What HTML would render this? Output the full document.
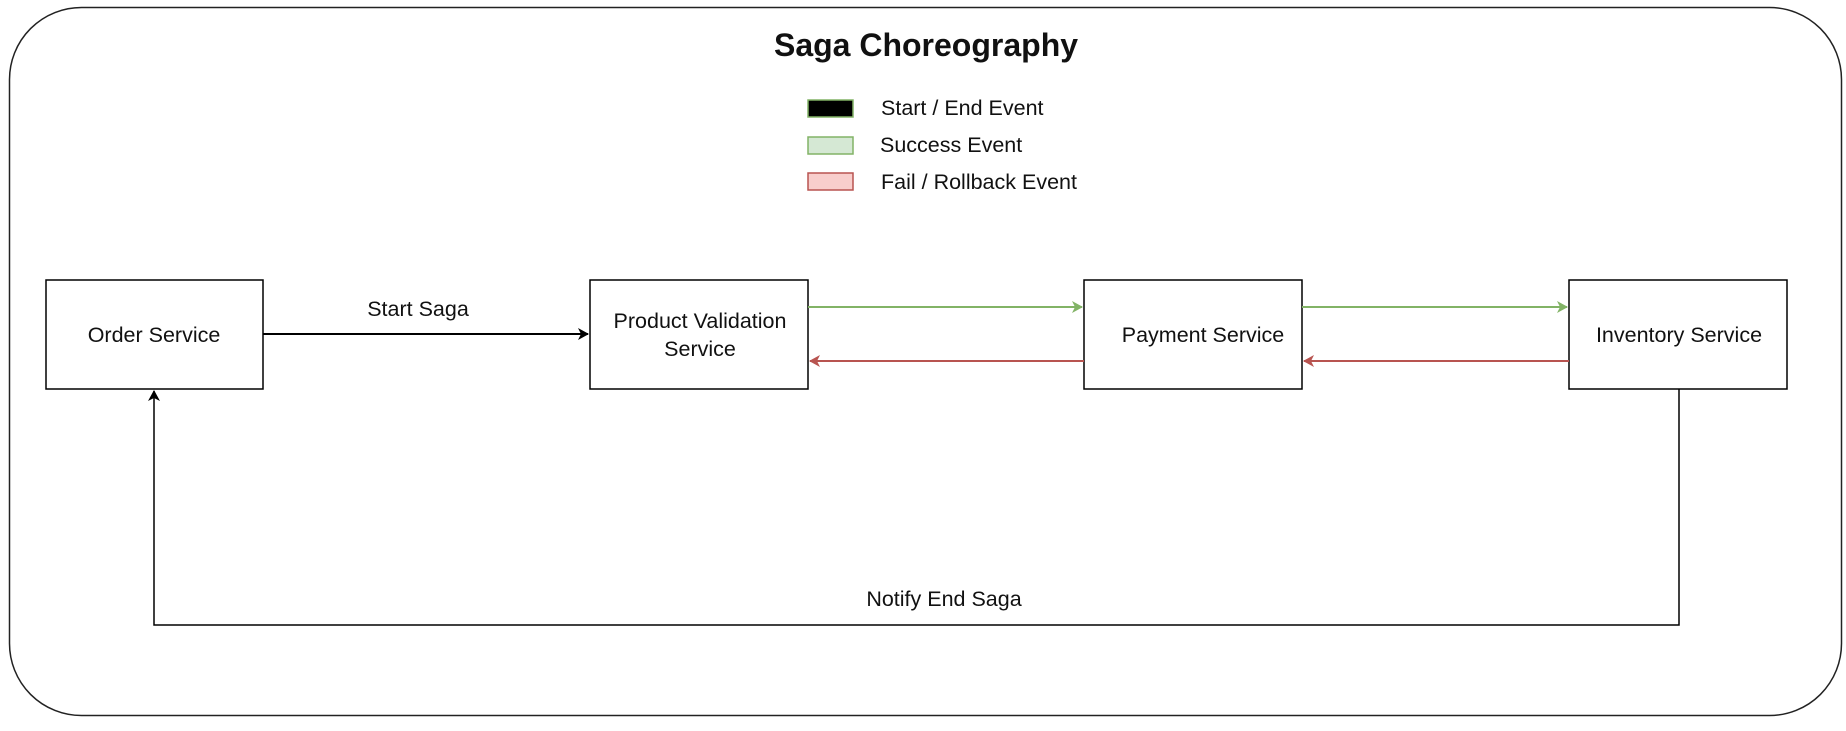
<!DOCTYPE html>
<html><head><meta charset="utf-8"><style>
body{margin:0;background:#fff;}
svg text{font-family:"Liberation Sans",Arial,sans-serif;fill:#111;}
</style></head><body>
<svg width="1846" height="726" viewBox="0 0 1846 726" xmlns="http://www.w3.org/2000/svg">
<defs>
<marker id="ab" markerWidth="12" markerHeight="12" refX="10" refY="6" orient="auto" markerUnits="userSpaceOnUse"><path d="M0,0 L11,6 L0,12 L3,6 Z" fill="#000"/></marker>
<marker id="ag" markerWidth="12" markerHeight="12" refX="10" refY="6" orient="auto" markerUnits="userSpaceOnUse"><path d="M0,0 L11,6 L0,12 L3,6 Z" fill="#82b366"/></marker>
<marker id="ar" markerWidth="12" markerHeight="12" refX="10" refY="6" orient="auto" markerUnits="userSpaceOnUse"><path d="M0,0 L11,6 L0,12 L3,6 Z" fill="#b85450"/></marker>
</defs>
<rect x="9.5" y="7.5" width="1832" height="708" rx="72" ry="72" fill="#fff" stroke="#222" stroke-width="1.5"/>
<text x="926" y="56" font-size="32" font-weight="bold" text-anchor="middle">Saga Choreography</text>
<rect x="808" y="100" width="45" height="17" fill="#000" stroke="#82b366" stroke-width="1.5"/>
<rect x="808" y="137" width="45" height="17" fill="#d5e8d4" stroke="#82b366" stroke-width="1.5"/>
<rect x="808" y="173" width="45" height="17" fill="#f8cecc" stroke="#b85450" stroke-width="1.5"/>
<text x="881" y="115" font-size="21.5">Start / End Event</text>
<text x="880" y="152" font-size="21.5">Success Event</text>
<text x="881" y="189" font-size="21.5">Fail / Rollback Event</text>
<g fill="#fff" stroke="#000" stroke-width="1.5">
<rect x="46" y="280" width="217" height="109"/>
<rect x="590" y="280" width="218" height="109"/>
<rect x="1084" y="280" width="218" height="109"/>
<rect x="1569" y="280" width="218" height="109"/>
</g>
<g font-size="21.5" text-anchor="middle">
<text x="154" y="342">Order Service</text>
<text x="700" y="328">Product Validation</text>
<text x="700" y="356">Service</text>
<text x="1203" y="342">Payment Service</text>
<text x="1679" y="342">Inventory Service</text>
<text x="418" y="316">Start Saga</text>
<text x="944" y="606">Notify End Saga</text>
</g>
<line x1="263" y1="334" x2="588" y2="334" stroke="#000" stroke-width="2" marker-end="url(#ab)"/>
<line x1="808" y1="307" x2="1082" y2="307" stroke="#82b366" stroke-width="2" marker-end="url(#ag)"/>
<line x1="1302" y1="307" x2="1567" y2="307" stroke="#82b366" stroke-width="2" marker-end="url(#ag)"/>
<line x1="1084" y1="361" x2="810" y2="361" stroke="#b85450" stroke-width="2" marker-end="url(#ar)"/>
<line x1="1569" y1="361" x2="1304" y2="361" stroke="#b85450" stroke-width="2" marker-end="url(#ar)"/>
<polyline points="1679,389 1679,625 154,625 154,391" fill="none" stroke="#000" stroke-width="1.5" marker-end="url(#ab)"/>
</svg>
</body></html>
